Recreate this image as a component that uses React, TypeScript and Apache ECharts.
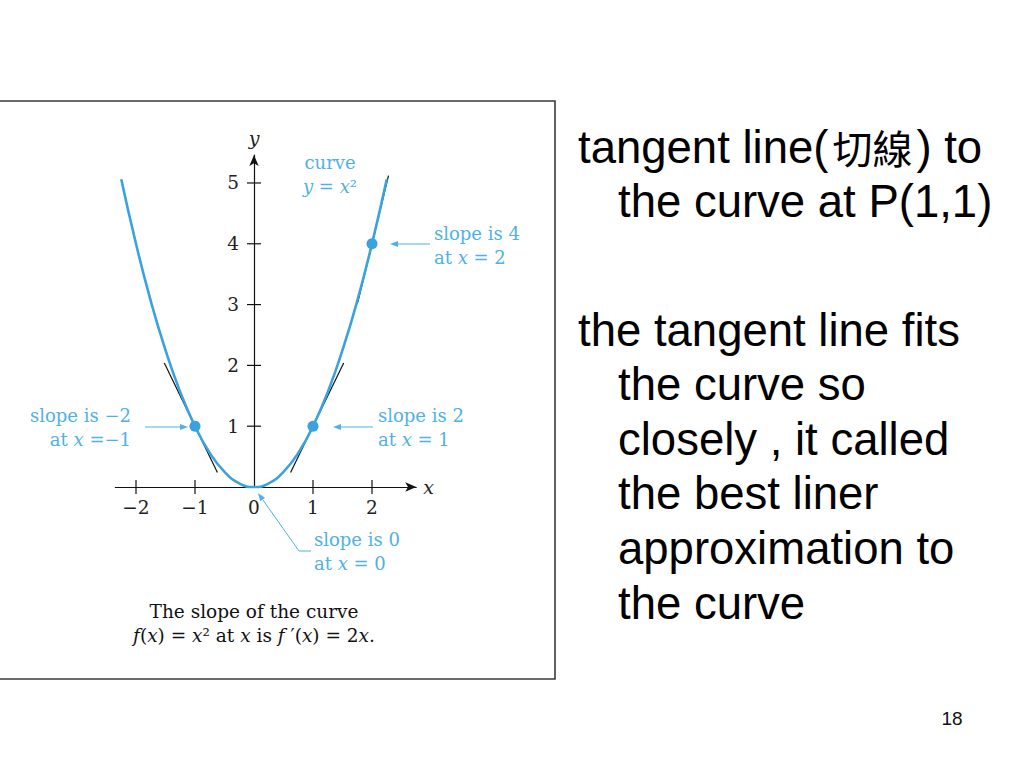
import React, { useEffect, useRef } from "react";
import * as echarts from "echarts";

// ---- data ----
const CURVE_X = [-2.25, -2, -1.75, -1.5, -1.25, -1, -0.75, -0.5, -0.25, 0, 0.25, 0.5, 0.75, 1, 1.25, 1.5, 1.75, 2, 2.25];
const CURVE_Y = [5.06, 4, 3.06, 2.25, 1.56, 1, 0.56, 0.25, 0.06, 0, 0.06, 0.25, 0.56, 1, 1.56, 2.25, 3.06, 4, 5.06];
const TANGENT_AT_NEG1 = [[-1.52, 2.04], [-0.62, 0.24]];
const TANGENT_AT_1 = [[0.62, 0.24], [1.52, 2.04]];
const TANGENT_AT_2 = [[1.76, 3.04], [2.28, 5.12]];
const POINTS_X = [-1, 1, 2];
const POINTS_Y = [1, 1, 4];
const X_TICKS = [-2, -1, 1, 2];
const Y_TICKS = [1, 2, 3, 4, 5];
const X_LABELS = [-2, -1, 0, 1, 2];

const RIGHT_LINES_1 = ["tangent line({c|切線}) to", "the curve at P(1,1)"];
const RIGHT_LINES_2 = [
  "the tangent line fits",
  "the curve so",
  "closely , it called",
  "the best liner",
  "approximation to",
  "the curve",
];

const BLUE = "#3aa2de";
const TEXT_BLUE = "#4fb1e5";
const SERIF = "DejaVu Serif";
const SANS = "Liberation Sans";

function arrow(points: number[][], color: string) {
  const n = points.length;
  const [x1, y1] = points[n - 2];
  const [x2, y2] = points[n - 1];
  const ang = Math.atan2(y2 - y1, x2 - x1);
  const L = 8, W = 3;
  const bx = x2 - L * Math.cos(ang);
  const by = y2 - L * Math.sin(ang);
  const px = -Math.sin(ang) * W;
  const py = Math.cos(ang) * W;
  return [
    {
      type: "polyline",
      shape: { points: points.slice(0, n - 1).concat([[bx, by]]) },
      style: { stroke: color, lineWidth: 1, fill: "none" },
      z: 10,
    },
    {
      type: "polygon",
      shape: { points: [[x2, y2], [bx + px, by + py], [bx - px, by - py]] },
      style: { fill: color },
      z: 10,
    },
  ];
}

export default function App() {
  const ref = useRef<HTMLDivElement>(null);
  useEffect(() => {
    if (!ref.current) return;
    const chart = echarts.init(ref.current, null, { renderer: "svg" });
    const italic = { fontStyle: "italic", fontFamily: SERIF };
    const annoStyle = (text: string, align: string, fill: string, size = 18) => ({
      text,
      fill,
      fontFamily: SERIF,
      fontSize: size,
      lineHeight: 24,
      align,
      verticalAlign: "middle",
      rich: { i: { ...italic, fontSize: size, lineHeight: 24 } },
    });

    const graphics: any[] = [
      {
        type: "rect",
        shape: { x: -1, y: 101, width: 556, height: 578 },
        style: { fill: "none", stroke: "#3a3a3a", lineWidth: 1.6 },
        z: 1,
      },
      { type: "text", x: 131, y: 427.5, style: annoStyle("slope is −2\nat {i|x} =−1", "right", TEXT_BLUE), z: 10 },
      { type: "text", x: 378, y: 427.5, style: annoStyle("slope is 2\nat {i|x} = 1", "left", TEXT_BLUE), z: 10 },
      { type: "text", x: 434, y: 245, style: annoStyle("slope is 4\nat {i|x} = 2", "left", TEXT_BLUE), z: 10 },
      { type: "text", x: 314, y: 551.5, style: annoStyle("slope is 0\nat {i|x} = 0", "left", TEXT_BLUE), z: 10 },
      { type: "text", x: 330, y: 174.5, style: annoStyle("curve\n{i|y} = {i|x}²", "center", TEXT_BLUE), z: 10 },
      {
        type: "text",
        x: 254,
        y: 623,
        style: annoStyle(
          "The slope of the curve\n{i|f}({i|x}) = {i|x}² at {i|x} is {i|f} ′({i|x}) = 2{i|x}.",
          "center",
          "#111",
          18.5
        ),
        z: 10,
      },
      ...arrow([[145, 427], [188, 427]], TEXT_BLUE),
      ...arrow([[373, 427], [333, 427]], TEXT_BLUE),
      ...arrow([[430, 244], [390, 244]], TEXT_BLUE),
      ...arrow([[311, 551], [299, 551], [258, 493]], TEXT_BLUE),
      {
        type: "text",
        x: 952,
        y: 718,
        style: { text: "18", fill: "#111", fontFamily: SANS, fontSize: 19, align: "center", verticalAlign: "middle" },
      },
    ];

    const rightText = (text: string, x: number, y: number) => ({
      type: "text",
      x,
      y,
      style: {
        text,
        fill: "#000",
        fontFamily: SANS,
        fontSize: 45.5,
        align: "left",
        verticalAlign: "middle",
        rich: { c: { fontFamily: "Noto Sans CJK TC", fontSize: 40, fill: "#000", padding: [0, 4, 0, 4] } },
      },
    });
    RIGHT_LINES_1.forEach((t, i) => graphics.push(rightText(t, i === 0 ? 578 : 618, 147 + i * 54.5)));
    RIGHT_LINES_2.forEach((t, i) => graphics.push(rightText(t, i === 0 ? 578 : 618, 330 + i * 54.6)));

    const labelStyle = {
      color: "#222",
      fontFamily: SERIF,
      fontSize: 18.5,
    };
    const nameStyle = { color: "#222", fontFamily: SERIF, fontStyle: "italic", fontSize: 19 };
    const axisLine = {
      show: true,
      symbol: ["none", "arrow"],
      symbolSize: [7, 11],
      lineStyle: { color: "#111", width: 1.2 },
    };

    chart.setOption({
      animation: false,
      backgroundColor: "#fff",
      grid: { left: 115.35, right: 1024 - 416.25, top: 155, bottom: 768 - 487, containLabel: false },
      xAxis: {
        type: "value",
        min: -2.35,
        max: 2.75,
        name: "x",
        nameLocation: "end",
        nameGap: 7,
        nameTextStyle: { ...nameStyle, verticalAlign: "middle" },
        axisLine,
        axisTick: { show: false },
        splitLine: { show: false },
        axisLabel: {
          ...labelStyle,
          margin: 11,
          customValues: X_LABELS,
          formatter: (v: number) => (v < 0 ? "−" + Math.abs(v) : String(v)),
        },
      },
      yAxis: {
        type: "value",
        min: 0,
        max: 5.46,
        name: "y",
        nameLocation: "end",
        nameGap: 8,
        nameTextStyle: nameStyle,
        axisLine: { ...axisLine, onZero: true },
        axisTick: { show: false },
        splitLine: { show: false },
        axisLabel: { show: false },
      },
      series: [
        {
          type: "line",
          data: CURVE_X.map((x, i) => [x, CURVE_Y[i]]),
          smooth: true,
          showSymbol: false,
          clip: false,
          lineStyle: { color: BLUE, width: 2.6 },
          z: 4,
        },
        ...[TANGENT_AT_NEG1, TANGENT_AT_1, TANGENT_AT_2].map((seg) => ({
          type: "line",
          data: seg,
          showSymbol: false,
          clip: false,
          lineStyle: { color: "#111", width: 1.2 },
          z: 3,
        })),
        {
          type: "scatter",
          data: POINTS_X.map((x, i) => [x, POINTS_Y[i]]),
          symbolSize: 11,
          itemStyle: { color: BLUE, opacity: 1 },
          z: 6,
        },
        {
          type: "scatter",
          data: X_TICKS.map((x) => [x, 0]),
          symbol: "rect",
          symbolSize: [1.2, 14],
          itemStyle: { color: "#111", opacity: 1 },
          clip: false,
          silent: true,
          z: 2,
        },
        {
          type: "scatter",
          data: Y_TICKS.map((y) => [0, y]),
          symbol: "rect",
          symbolSize: [14, 1.2],
          itemStyle: { color: "#111", opacity: 1 },
          clip: false,
          silent: true,
          label: {
            show: true,
            position: "left",
            distance: 8,
            formatter: (p: any) => String(p.value[1]),
            ...labelStyle,
          },
          z: 2,
        },
      ],
      graphic: graphics,
    });
    return () => chart.dispose();
  }, []);
  return (
    <div
      ref={ref}
      style={{ position: "absolute", left: 0, top: 0, width: 1024, height: 768 }}
    />
  );
}
